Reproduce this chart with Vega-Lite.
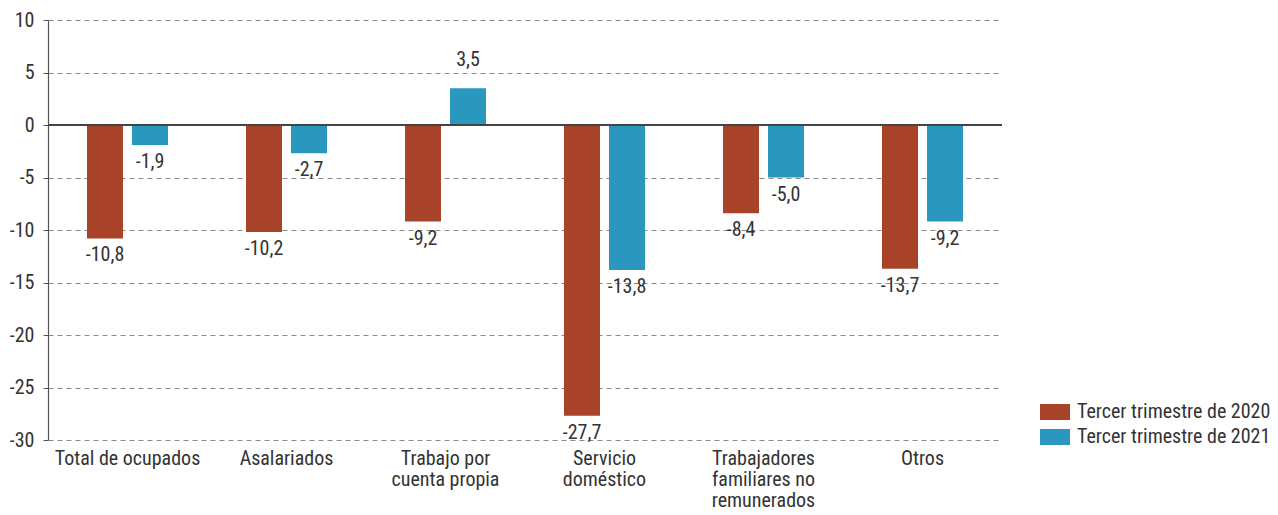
{
  "$schema": "https://vega.github.io/schema/vega-lite/v6.json",
  "autosize": {"type": "none"},
  "width": 954,
  "height": 420,
  "padding": {"left": 48, "top": 20, "right": 276, "bottom": 75},
  "config": {
    "view": {"stroke": null},
    "font": "Liberation Sans Narrow, Roboto Condensed, Roboto, sans-serif",
    "locale": {"number": {"decimal": ",", "thousands": ".", "grouping": [3], "currency": ["", " €"], "minus": "-"}}
  },
  "data": {"values": [
    {"cat": "Total de ocupados", "serie": "Tercer trimestre de 2020", "v": -10.8},
    {"cat": "Total de ocupados", "serie": "Tercer trimestre de 2021", "v": -1.9},
    {"cat": "Asalariados", "serie": "Tercer trimestre de 2020", "v": -10.2},
    {"cat": "Asalariados", "serie": "Tercer trimestre de 2021", "v": -2.7},
    {"cat": "Trabajo por cuenta propia", "serie": "Tercer trimestre de 2020", "v": -9.2},
    {"cat": "Trabajo por cuenta propia", "serie": "Tercer trimestre de 2021", "v": 3.5},
    {"cat": "Servicio doméstico", "serie": "Tercer trimestre de 2020", "v": -27.7},
    {"cat": "Servicio doméstico", "serie": "Tercer trimestre de 2021", "v": -13.8},
    {"cat": "Trabajadores familiares no remunerados", "serie": "Tercer trimestre de 2020", "v": -8.4},
    {"cat": "Trabajadores familiares no remunerados", "serie": "Tercer trimestre de 2021", "v": -5.0},
    {"cat": "Otros", "serie": "Tercer trimestre de 2020", "v": -13.7},
    {"cat": "Otros", "serie": "Tercer trimestre de 2021", "v": -9.2}
  ]},
  "encoding": {
    "x": {
      "field": "cat", "type": "nominal", "sort": null, "title": null,
      "scale": {"paddingInner": 0, "paddingOuter": 0},
      "axis": {
        "domain": false, "ticks": false, "labelAngle": 0, "labelFontSize": 20, "labelColor": "#333333",
        "labelPadding": 8, "labelLineHeight": 21, "labelBaseline": "top", "labelLimit": 300,
        "labelExpr": "datum.value == 'Trabajo por cuenta propia' ? ['Trabajo por', 'cuenta propia'] : datum.value == 'Servicio doméstico' ? ['Servicio', 'doméstico'] : datum.value == 'Trabajadores familiares no remunerados' ? ['Trabajadores', 'familiares no', 'remunerados'] : datum.value"
      }
    },
    "xOffset": {"field": "serie", "type": "nominal", "scale": {"paddingInner": 0.2, "paddingOuter": 0.867}}
  },
  "layer": [
    {
      "mark": {"type": "bar"},
      "encoding": {
        "y": {
          "field": "v", "type": "quantitative", "title": null,
          "scale": {"domain": [-30, 10], "nice": false, "zero": false},
          "axis": {
            "values": [-30, -25, -20, -15, -10, -5, 0, 5, 10],
            "grid": true, "gridDash": [5, 4], "gridColor": "#8a8a8a", "gridWidth": 1,
            "domainColor": "#555555", "domainWidth": 1.2, "tickColor": "#555555", "tickSize": 5,
            "labelFontSize": 20, "labelColor": "#333333", "labelPadding": 9, "format": "d"
          }
        },
        "color": {
          "field": "serie", "type": "nominal", "title": null,
          "scale": {"range": ["#A8432A", "#2A97BF"]},
          "legend": {
            "orient": "none", "legendX": 992, "legendY": 377, "padding": 0,
            "symbolType": "M-1,-0.533H1V0.533H-1Z", "symbolSize": 900, "symbolStrokeWidth": 0,
            "symbolOpacity": 1, "labelFontSize": 20, "labelColor": "#333333", "labelOffset": 7,
            "labelLimit": 400, "rowPadding": -3
          }
        }
      }
    },
    {
      "mark": {"type": "rule", "color": "#444444", "strokeWidth": 1.3},
      "encoding": {"y": {"datum": 0, "type": "quantitative"}, "x": {"value": 0}, "x2": {"value": 954}, "xOffset": null}
    },
    {
      "transform": [{"filter": "datum.v < 0"}],
      "mark": {"type": "text", "baseline": "alphabetic", "dy": 23, "fontSize": 20, "color": "#333333"},
      "encoding": {
        "y": {"field": "v", "type": "quantitative"},
        "text": {"field": "v", "type": "quantitative", "format": ".1f"}
      }
    },
    {
      "transform": [{"filter": "datum.v >= 0"}],
      "mark": {"type": "text", "baseline": "alphabetic", "dy": -22, "fontSize": 20, "color": "#333333"},
      "encoding": {
        "y": {"field": "v", "type": "quantitative"},
        "text": {"field": "v", "type": "quantitative", "format": ".1f"}
      }
    }
  ]
}
